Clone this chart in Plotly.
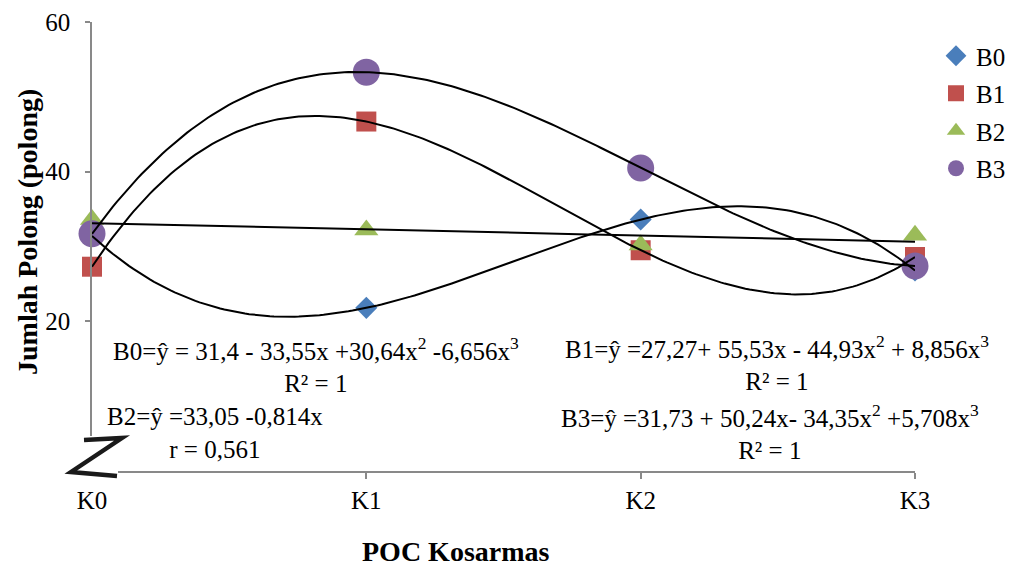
import numpy as np
import plotly.graph_objects as go

categories = ["K0", "K1", "K2", "K3"]
x_pos = [0, 1, 2, 3]
B0 = [31.4, 21.8, 33.6, 26.8]
B1 = [27.3, 46.7, 29.5, 28.6]
B2 = [33.6, 32.2, 30.2, 31.5]
B3 = [31.7, 53.3, 40.5, 27.4]
y_ticks = [20, 40, 60]

series = [
    ("B0", B0, "diamond", "#4A7EBB", 17, 3),
    ("B1", B1, "square", "#C0504D", 20, 3),
    ("B2", B2, "triangle-up", "#9BBB59", 21, 1),
    ("B3", B3, "circle", "#8064A2", 27, 3),
]

FONT = "Liberation Serif, Times New Roman, serif"
W, H = 1011, 566
L, R, T, B = 92, 96, 22, 95
PW, PH = W - L - R, H - T - B


def px(xp):
    return (xp - L) / PW


def py(yp):
    return (H - B - yp) / PH


fig = go.Figure()
for name, vals, sym, col, size, deg in series:
    fig.add_trace(go.Scatter(
        x=x_pos, y=vals, mode="markers", name=name,
        marker=dict(symbol=sym, color=col, size=size, line=dict(width=0)),
        cliponaxis=False, legendgroup=name,
    ))

xs = np.linspace(0, 3, 200)
for name, vals, sym, col, size, deg in series:
    coef = np.polyfit(x_pos, vals, deg)
    fig.add_trace(go.Scatter(
        x=xs, y=np.polyval(coef, xs), mode="lines", showlegend=False,
        line=dict(color="black", width=2), hoverinfo="skip", cliponaxis=False,
    ))

# equation labels: (center x pixel, center y pixel, text)
annots = [
    (316, 365, "B0=ŷ = 31,4 - 33,55x +30,64x<sup>2</sup> -6,656x<sup>3</sup><br>R² = 1"),
    (215, 433, "B2=ŷ =33,05 -0,814x<br>r = 0,561"),
    (777, 363, "B1=ŷ =27,27+ 55,53x - 44,93x<sup>2</sup> + 8,856x<sup>3</sup><br>R² = 1"),
    (770, 432, "B3=ŷ =31,73 + 50,24x- 34,35x<sup>2</sup> +5,708x<sup>3</sup><br>R² = 1"),
]
for ax, ay, txt in annots:
    fig.add_annotation(x=px(ax), y=py(ay), xref="paper", yref="paper", text=txt,
                       showarrow=False, align="center", xanchor="center",
                       yanchor="middle",
                       font=dict(family=FONT, size=25, color="black"))

# axis titles
fig.add_annotation(x=px(456), y=py(551), xref="paper", yref="paper",
                   text="<b>POC Kosarmas</b>", showarrow=False,
                   xanchor="center", yanchor="middle",
                   font=dict(family=FONT, size=28, color="black"))
fig.add_annotation(x=px(27), y=py(232), xref="paper", yref="paper",
                   text="<b>Jumlah Polong (polong)</b>", showarrow=False,
                   textangle=-90, xanchor="center", yanchor="middle",
                   font=dict(family=FONT, size=28, color="black"))

# broken-axis mark
fig.add_shape(type="rect", xref="paper", yref="paper",
              x0=px(55), x1=px(118), y0=py(480), y1=py(436),
              fillcolor="white", line=dict(width=0), layer="above")
zpath = "M {},{} L {},{} L {},{} L {},{}".format(
    px(84), py(440), px(122), py(438), px(71), py(472), px(117), py(476))
fig.add_shape(type="path", xref="paper", yref="paper", path=zpath,
              line=dict(color="#1a1a1a", width=4.5), layer="above")

axis_col = "#898989"
fig.update_layout(
    width=W, height=H,
    margin=dict(l=L, r=R, t=T, b=B, autoexpand=False),
    plot_bgcolor="white", paper_bgcolor="white",
    font=dict(family=FONT, size=25, color="black"),
    showlegend=True,
    legend=dict(x=px(936), y=py(33), xanchor="left", yanchor="top",
                font=dict(family=FONT, size=25, color="black"),
                bgcolor="rgba(0,0,0,0)", tracegroupgap=2),
    xaxis=dict(range=[0, 3], tickvals=x_pos, ticktext=categories,
               showgrid=False, zeroline=False, showline=True, linecolor=axis_col,
               linewidth=1.5, ticks="outside", ticklen=6, tickcolor=axis_col,
               tickwidth=1.5, tickfont=dict(family=FONT, size=25)),
    yaxis=dict(range=[0, 60], tickvals=y_ticks,
               showgrid=False, zeroline=False, showline=True, linecolor=axis_col,
               linewidth=1.5, ticks="outside", ticklen=5, tickcolor=axis_col,
               tickwidth=1.5, tickfont=dict(family=FONT, size=25),
               ticklabelstandoff=10),
)

fig.write_html("out.html")
